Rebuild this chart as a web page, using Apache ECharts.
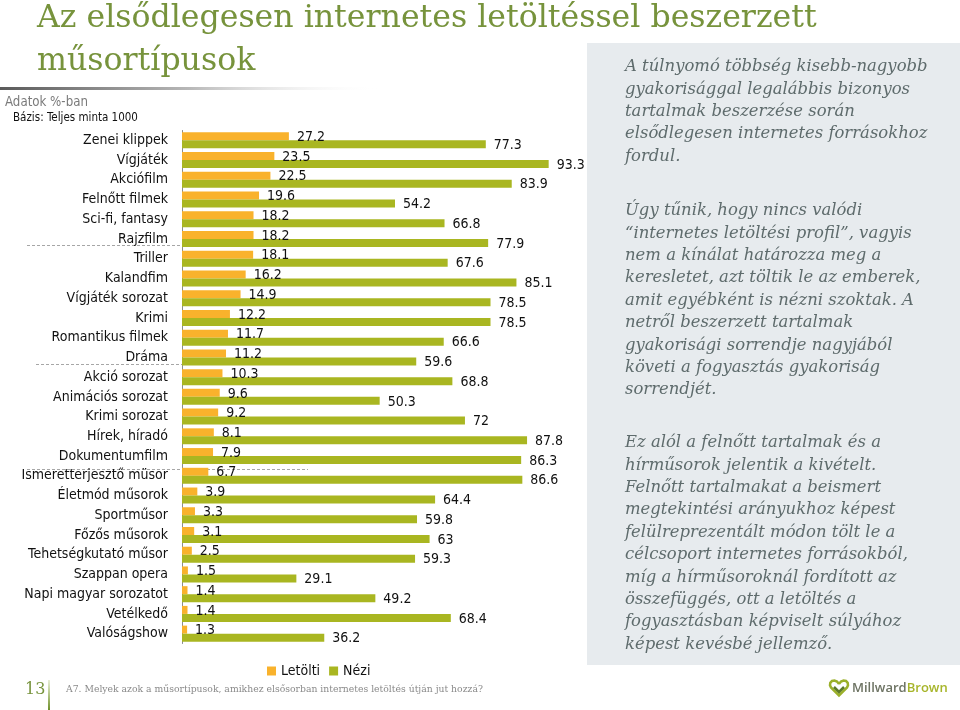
<!DOCTYPE html>
<html><head><meta charset="utf-8">
<script src="https://cdn.jsdelivr.net/npm/echarts@6/dist/echarts.min.js"></script>
<style>html,body{margin:0;padding:0;background:#fff}#c{width:960px;height:710px}</style>
</head><body><div id="c"></div>
<script>
const categories = ['Zenei klippek','Vígjáték','Akciófilm','Felnőtt filmek','Sci-fi, fantasy','Rajzfilm','Triller','Kalandfim','Vígjáték sorozat','Krimi','Romantikus filmek','Dráma','Akció sorozat','Animációs sorozat','Krimi sorozat','Hírek, híradó','Dokumentumfilm','Ismeretterjesztő müsor','Életmód műsorok','Sportműsor','Főzős műsorok','Tehetségkutató műsor','Szappan opera','Napi magyar sorozatot','Vetélkedő','Valóságshow'];
const letolti = [27.2,23.5,22.5,19.6,18.2,18.2,18.1,16.2,14.9,12.2,11.7,11.2,10.3,9.6,9.2,8.1,7.9,6.7,3.9,3.3,3.1,2.5,1.5,1.4,1.4,1.3];
const nezi = [77.3,93.3,83.9,54.2,66.8,77.9,67.6,85.1,78.5,78.5,66.6,59.6,68.8,50.3,72,87.8,86.3,86.6,64.4,59.8,63,59.3,29.1,49.2,68.4,36.2];
const seriesNames = ['Letölti','Nézi'];
const titleLines = ['Az elsődlegesen internetes letöltéssel beszerzett','műsortípusok'];
const noteLines = ['Adatok %-ban','Bázis: Teljes minta 1000'];
const para1 = ['A túlnyomó többség kisebb-nagyobb','gyakorisággal legalábbis bizonyos','tartalmak beszerzése során','elsődlegesen internetes forrásokhoz','fordul.'];
const para2 = ['Úgy tűnik, hogy nincs valódi','“internetes letöltési profil”, vagyis','nem a kínálat határozza meg a','keresletet, azt töltik le az emberek,','amit egyébként is nézni szoktak. A','netről beszerzett tartalmak','gyakorisági sorrendje nagyjából','követi a fogyasztás gyakoriság','sorrendjét.'];
const para3 = ['Ez alól a felnőtt tartalmak és a','hírműsorok jelentik a kivételt.','Felnőtt tartalmakat a beismert','megtekintési arányukhoz képest','felülreprezentált módon tölt le a','célcsoport internetes forrásokból,','míg a hírműsoroknál fordított az','összefüggés, ott a letöltés a','fogyasztásban képviselt súlyához','képest kevésbé jellemző.'];
const pageNumber = '13';
const questionText = 'A7. Melyek azok a műsortípusok, amikhez elsősorban internetes letöltés útján jut hozzá?';
const logoParts = ['Millward','Brown'];

const NARROW = "'Liberation Sans Narrow','DejaVu Sans Condensed',Arial,sans-serif";
const SERIF = "'DejaVu Serif','Liberation Serif',serif";
const ctx = document.createElement('canvas').getContext('2d');
function fit(text, family, style, target){ ctx.font = style + ' 100px ' + family; return 100 * target / ctx.measureText(text).width; }

const titleSize = fit(titleLines[0], SERIF, 'normal', 780);
const paraSize = fit(para1[0], SERIF, 'italic', 303);
const qSize = fit(questionText, SERIF, 'normal', 417);
const catSize = Math.min(15, Math.max(14, fit(categories[17], NARROW, 'normal', 134)));
const noteSize = Math.min(14, fit(noteLines[0], NARROW, 'normal', 83));
const baseSize = Math.min(12, fit(noteLines[1], NARROW, 'normal', 125));

const LH = 22.4;
function txt(x, y, text, font, fill, extra){
  return {type:'text', x:x, y:y, z:1, style:Object.assign({text:text, font:font, fill:fill, verticalAlign:'middle', align:'left'}, extra||{})};
}
function paraText(lines, yCenter){
  return {type:'text', x:625, y:yCenter - LH/2, z:1,
    style:{text:lines.join('\n'), font:'italic ' + paraSize.toFixed(2) + 'px ' + SERIF, fill:'#5e6b6c', lineHeight:LH, verticalAlign:'top', align:'left'}};
}
function dashed(x1,x2,y){
  return {type:'line', z:0, shape:{x1:x1,y1:y,x2:x2,y2:y}, style:{stroke:'#a6a6a6', lineWidth:1, lineDash:[3,2]}};
}
function lin(x2,y2,stops){ return {type:'linear', x:0, y:0, x2:x2, y2:y2, colorStops:stops, global:false}; }

const heartPts = [[11,5],[9,2.5],[6.5,1.5],[4,2],[2.3,3.8],[2,6.2],[3,8.5],[11,16.5],[19,8.5],[20,6.2],[19.7,3.8],[18,2],[15.5,1.5],[13,2.5],[11,5]];

const chart = echarts.init(document.getElementById('c'), null, {renderer:'canvas'});
chart.setOption({
  animation:false,
  backgroundColor:'#fff',
  grid:{left:182, top:130.5, width:393, height:513, containLabel:false},
  legend:{data:seriesNames, left:262, top:659, itemWidth:9, itemHeight:9, itemGap:9, icon:'rect',
    textStyle:{fontFamily:NARROW, fontSize:catSize, color:'#111'}},
  xAxis:{type:'value', min:0, max:100, show:false},
  yAxis:{type:'category', data:categories, inverse:true,
    axisLine:{lineStyle:{color:'#8c8c8c', width:1}}, axisTick:{show:false},
    axisLabel:{fontFamily:NARROW, fontSize:catSize, color:'#111', margin:14}},
  series:[
    {name:seriesNames[0], type:'bar', data:letolti, barWidth:8, barGap:'0%', z:3,
     itemStyle:{color:'#f9b22c'},
     label:{show:true, position:'right', distance:8, fontFamily:NARROW, fontSize:catSize, color:'#111', offset:[0,1]}},
    {name:seriesNames[1], type:'bar', data:nezi, barWidth:8, barGap:'0%', z:3,
     itemStyle:{color:'#a9b621'},
     label:{show:true, position:'right', distance:8, fontFamily:NARROW, fontSize:catSize, color:'#111', offset:[0,1]}}
  ],
  graphic:{elements:[
    {type:'rect', z:0, shape:{x:587,y:43,width:373,height:622}, style:{fill:'#e7ebee'}},
    txt(37, 19, titleLines[0], titleSize.toFixed(2)+'px '+SERIF, '#77933c'),
    txt(37, 62, titleLines[1], titleSize.toFixed(2)+'px '+SERIF, '#77933c'),
    {type:'rect', z:0, shape:{x:0,y:87,width:380,height:3},
     style:{fill:lin(1,0,[{offset:0,color:'#5a5a5a'},{offset:0.5,color:'#b8b8b8'},{offset:1,color:'rgba(255,255,255,0)'}])}},
    txt(5, 103, noteLines[0], noteSize.toFixed(2)+'px '+NARROW, '#7a7a7a'),
    txt(13, 118, noteLines[1], baseSize.toFixed(2)+'px '+NARROW, '#111'),
    dashed(27,310,245.5),
    dashed(36,318,364.5),
    dashed(27,308,469.5),
    paraText(para1, 67),
    paraText(para2, 211),
    paraText(para3, 443),
    txt(25, 690, pageNumber, '16px '+SERIF, '#77933c'),
    {type:'rect', z:1, shape:{x:48,y:680,width:2,height:30},
     style:{fill:lin(0,1,[{offset:0,color:'rgba(140,170,60,0.2)'},{offset:1,color:'#6e8f2a'}])}},
    txt(66, 690, questionText, qSize.toFixed(2)+'px '+SERIF, '#8a8a8a'),
    {type:'polyline', z:2, x:828, y:679, shape:{points:heartPts}, style:{fill:'none', stroke:'#9bb02a', lineWidth:2.5}},
    {type:'polyline', z:2, x:828, y:679, shape:{points:[[6,8],[11,13],[16,8]]}, style:{fill:'none', stroke:'#5d7a2a', lineWidth:2.5}},
    {type:'text', z:2, x:852, y:688, style:{
      text:'{a|' + logoParts[0] + '}{b|' + logoParts[1] + '}', verticalAlign:'middle', align:'left',
      rich:{a:{fontFamily:"'Open Sans',sans-serif", fontSize:13, fontWeight:600, fill:'#6d7363'},
            b:{fontFamily:"'Open Sans',sans-serif", fontSize:13, fontWeight:600, fill:'#a7b52a'}}}}
  ]}
});
</script></body></html>
